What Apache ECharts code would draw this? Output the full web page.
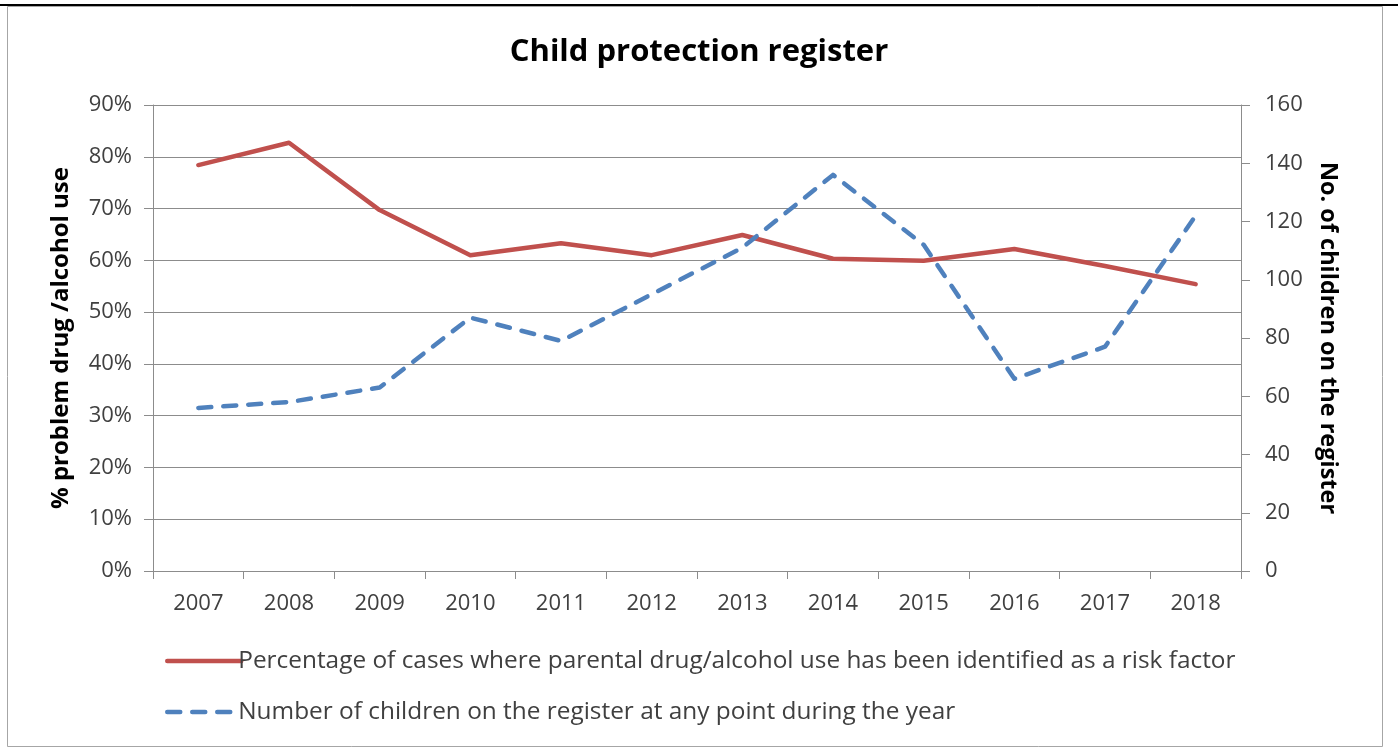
<!DOCTYPE html>
<html>
<head>
<meta charset="utf-8">
<title>Child protection register</title>
<script src="https://cdn.jsdelivr.net/npm/echarts@6/dist/echarts.min.js"></script>
<style>
  html, body { margin: 0; padding: 0; background: #fff; }
  #chart { width: 1398px; height: 749px; }
</style>
</head>
<body>
<div id="chart"></div>
<script>
// Years on the category axis
const years = ['2007', '2008', '2009', '2010', '2011', '2012', '2013', '2014', '2015', '2016', '2017', '2018'];

// Share of cases with parental drug/alcohol use identified as a risk factor (%)
const riskFactorPct = [78.4, 82.7, 69.7, 61.0, 63.3, 61.0, 64.9, 60.3, 59.9, 62.2, 58.9, 55.4];

// Number of children on the register at any point during the year
const childrenOnRegister = [56, 58, 63, 87, 79, 95, 111, 136, 112, 66, 77, 122];

const seriesNames = [
  'Percentage of cases where parental drug/alcohol use has been identified as a risk factor',
  'Number of children on the register at any point during the year'
];

const FONT = '"Open Sans", "Noto Sans", sans-serif';
const AXIS_GREY = '#8c8c8c';
const TEXT_GREY = '#404040';

const chart = echarts.init(document.getElementById('chart'), null, { renderer: 'canvas' });

chart.setOption({
  backgroundColor: '#ffffff',
  animation: false,
  textStyle: { fontFamily: FONT },
  title: {
    text: 'Child protection register',
    left: 'center',
    top: 32,
    textStyle: { fontFamily: FONT, fontSize: 31, fontWeight: 'bold', color: '#000' }
  },
  graphic: [
    { type: 'rect', shape: { x: 0, y: 4, width: 1398, height: 2 }, style: { fill: '#000' }, silent: true },
    { type: 'rect', shape: { x: 7.5, y: 6.5, width: 1375, height: 740 }, style: { fill: 'none', stroke: '#a6a6a6', lineWidth: 1 }, silent: true }
  ],
  grid: { left: 153, right: 157, top: 105, bottom: 178, containLabel: false },
  legend: {
    orient: 'vertical',
    left: 160,
    top: 644,
    itemWidth: 74,
    itemHeight: 22,
    itemGap: 27,
    itemStyle: { opacity: 0 },
    lineStyle: { width: 4.5 },
    textStyle: { fontFamily: FONT, fontSize: 24.4, color: TEXT_GREY, padding: [0, 0, 0, -8] },
    data: seriesNames
  },
  xAxis: {
    type: 'category',
    data: years,
    boundaryGap: true,
    axisLine: { lineStyle: { color: AXIS_GREY, width: 1 } },
    axisTick: { show: true, length: 8, inside: false, alignWithLabel: false, lineStyle: { color: AXIS_GREY } },
    axisLabel: { fontFamily: FONT, fontSize: 22, color: TEXT_GREY, margin: 22 },
    splitLine: { show: false }
  },
  yAxis: [
    {
      type: 'value',
      min: 0,
      max: 90,
      interval: 10,
      position: 'left',
      name: '% problem drug /alcohol use',
      nameLocation: 'middle',
      nameGap: 80,
      nameRotate: 90,
      nameTextStyle: { fontFamily: FONT, fontSize: 24, fontWeight: 'bold', color: '#000' },
      axisLine: { show: true, lineStyle: { color: AXIS_GREY, width: 1 } },
      axisTick: { show: true, length: 9, lineStyle: { color: AXIS_GREY } },
      axisLabel: { fontFamily: FONT, fontSize: 22, color: TEXT_GREY, margin: 21, formatter: '{value}%' },
      splitLine: { show: true, lineStyle: { color: AXIS_GREY, width: 1 } }
    },
    {
      type: 'value',
      min: 0,
      max: 160,
      interval: 20,
      position: 'right',
      name: 'No. of children on the register',
      nameLocation: 'middle',
      nameGap: 75,
      nameRotate: -90,
      nameTextStyle: { fontFamily: FONT, fontSize: 23.5, fontWeight: 'bold', color: '#000' },
      axisLine: { show: true, lineStyle: { color: AXIS_GREY, width: 1 } },
      axisTick: { show: true, length: 9, lineStyle: { color: AXIS_GREY } },
      axisLabel: { fontFamily: FONT, fontSize: 22, color: TEXT_GREY, margin: 24 },
      splitLine: { show: false }
    }
  ],
  series: [
    {
      name: seriesNames[0],
      type: 'line',
      yAxisIndex: 0,
      data: riskFactorPct,
      symbol: 'none',
      lineStyle: { color: '#c0504d', width: 4.5, cap: 'round', join: 'round' },
      itemStyle: { color: '#c0504d' }
    },
    {
      name: seriesNames[1],
      type: 'line',
      yAxisIndex: 1,
      data: childrenOnRegister,
      symbol: 'none',
      lineStyle: { color: '#4f81bd', width: 4.5, type: [13, 12], cap: 'round', join: 'round' },
      itemStyle: { color: '#4f81bd' }
    }
  ]
});
</script>
</body>
</html>
